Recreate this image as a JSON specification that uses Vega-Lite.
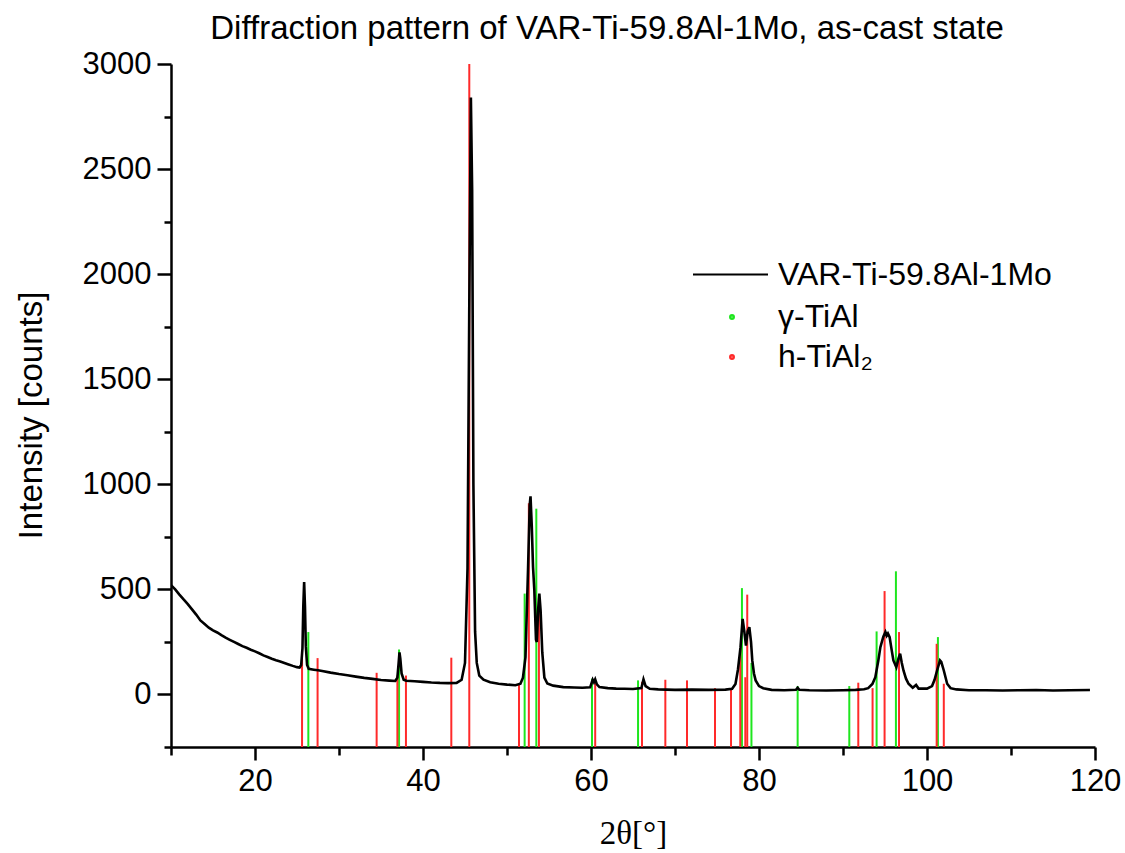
{
  "$schema": "https://vega.github.io/schema/vega-lite/v6.json",
  "width": 924,
  "height": 683,
  "autosize": "none",
  "padding": {"left": 171, "top": 64, "right": 30, "bottom": 106},
  "background": "white",
  "title": {
    "text": "Diffraction pattern of VAR-Ti-59.8Al-1Mo, as-cast state",
    "anchor": "middle",
    "dx": -26,
    "dy": 39,
    "offset": 8,
    "baseline": "bottom",
    "font": "Liberation Sans",
    "fontSize": 33,
    "fontWeight": "normal",
    "color": "black"
  },
  "config": {
    "view": {"stroke": null},
    "axis": {
      "grid": false,
      "domainColor": "black",
      "domainWidth": 2.5,
      "tickColor": "black",
      "tickWidth": 2.5,
      "labelFont": "Liberation Sans",
      "labelFontSize": 31,
      "labelColor": "black",
      "titleColor": "black",
      "titleFontWeight": "normal"
    },
    "legend": {
      "labelFont": "Liberation Sans",
      "labelFontSize": 32,
      "labelColor": "black",
      "labelLimit": 0,
      "title": null
    }
  },
  "datasets": {
    "curve": [
      {"two_theta": 10.0, "intensity": 520}, {"two_theta": 10.5, "intensity": 500}, {"two_theta": 11.0, "intensity": 475},
      {"two_theta": 11.5, "intensity": 452}, {"two_theta": 12.0, "intensity": 430}, {"two_theta": 12.5, "intensity": 405},
      {"two_theta": 13.0, "intensity": 380}, {"two_theta": 13.5, "intensity": 352}, {"two_theta": 14.0, "intensity": 335},
      {"two_theta": 14.5, "intensity": 318}, {"two_theta": 15.0, "intensity": 305}, {"two_theta": 15.5, "intensity": 295},
      {"two_theta": 16.0, "intensity": 282}, {"two_theta": 16.5, "intensity": 270}, {"two_theta": 17.0, "intensity": 260},
      {"two_theta": 17.5, "intensity": 250}, {"two_theta": 18.0, "intensity": 240}, {"two_theta": 18.5, "intensity": 230},
      {"two_theta": 19.0, "intensity": 222}, {"two_theta": 19.5, "intensity": 213}, {"two_theta": 20.0, "intensity": 205},
      {"two_theta": 20.5, "intensity": 196}, {"two_theta": 21.0, "intensity": 186}, {"two_theta": 21.5, "intensity": 178},
      {"two_theta": 22.0, "intensity": 170}, {"two_theta": 22.5, "intensity": 163}, {"two_theta": 23.0, "intensity": 157},
      {"two_theta": 23.5, "intensity": 150}, {"two_theta": 24.0, "intensity": 143}, {"two_theta": 24.5, "intensity": 136},
      {"two_theta": 25.0, "intensity": 130}, {"two_theta": 25.3, "intensity": 128}, {"two_theta": 25.5, "intensity": 140},
      {"two_theta": 25.65, "intensity": 220}, {"two_theta": 25.75, "intensity": 420}, {"two_theta": 25.85, "intensity": 535},
      {"two_theta": 25.95, "intensity": 420}, {"two_theta": 26.05, "intensity": 230}, {"two_theta": 26.2, "intensity": 140},
      {"two_theta": 26.4, "intensity": 122}, {"two_theta": 27.0, "intensity": 118}, {"two_theta": 27.5, "intensity": 115},
      {"two_theta": 28.0, "intensity": 112}, {"two_theta": 29.0, "intensity": 104}, {"two_theta": 30.0, "intensity": 97},
      {"two_theta": 31.0, "intensity": 91}, {"two_theta": 32.0, "intensity": 85}, {"two_theta": 33.0, "intensity": 79},
      {"two_theta": 34.0, "intensity": 74}, {"two_theta": 35.0, "intensity": 69}, {"two_theta": 36.0, "intensity": 66},
      {"two_theta": 36.7, "intensity": 64}, {"two_theta": 36.95, "intensity": 80}, {"two_theta": 37.1, "intensity": 150},
      {"two_theta": 37.2, "intensity": 200}, {"two_theta": 37.3, "intensity": 170}, {"two_theta": 37.45, "intensity": 100},
      {"two_theta": 37.7, "intensity": 70}, {"two_theta": 38.0, "intensity": 65}, {"two_theta": 39.0, "intensity": 63},
      {"two_theta": 40.0, "intensity": 60}, {"two_theta": 41.0, "intensity": 57}, {"two_theta": 42.0, "intensity": 55},
      {"two_theta": 43.0, "intensity": 54}, {"two_theta": 44.0, "intensity": 55}, {"two_theta": 44.6, "intensity": 70},
      {"two_theta": 45.0, "intensity": 150}, {"two_theta": 45.3, "intensity": 600}, {"two_theta": 45.5, "intensity": 1800},
      {"two_theta": 45.7, "intensity": 2840}, {"two_theta": 45.85, "intensity": 2400}, {"two_theta": 46.0, "intensity": 1000},
      {"two_theta": 46.2, "intensity": 300}, {"two_theta": 46.4, "intensity": 150}, {"two_theta": 46.7, "intensity": 90},
      {"two_theta": 47.2, "intensity": 70}, {"two_theta": 48.0, "intensity": 58}, {"two_theta": 49.0, "intensity": 51},
      {"two_theta": 50.0, "intensity": 47}, {"two_theta": 51.0, "intensity": 44}, {"two_theta": 51.6, "intensity": 51},
      {"two_theta": 51.9, "intensity": 80}, {"two_theta": 52.2, "intensity": 178}, {"two_theta": 52.5, "intensity": 590},
      {"two_theta": 52.7, "intensity": 900}, {"two_theta": 52.8, "intensity": 943}, {"two_theta": 52.95, "intensity": 800},
      {"two_theta": 53.1, "intensity": 606}, {"two_theta": 53.25, "intensity": 500}, {"two_theta": 53.45, "intensity": 260},
      {"two_theta": 53.55, "intensity": 250}, {"two_theta": 53.7, "intensity": 400}, {"two_theta": 53.85, "intensity": 480},
      {"two_theta": 54.0, "intensity": 400}, {"two_theta": 54.2, "intensity": 200}, {"two_theta": 54.45, "intensity": 80},
      {"two_theta": 54.8, "intensity": 52}, {"two_theta": 55.5, "intensity": 42}, {"two_theta": 56.7, "intensity": 35},
      {"two_theta": 58.0, "intensity": 33}, {"two_theta": 59.0, "intensity": 32}, {"two_theta": 59.9, "intensity": 34},
      {"two_theta": 60.2, "intensity": 70}, {"two_theta": 60.35, "intensity": 58}, {"two_theta": 60.5, "intensity": 72},
      {"two_theta": 60.7, "intensity": 48}, {"two_theta": 61.0, "intensity": 35}, {"two_theta": 62.0, "intensity": 30},
      {"two_theta": 63.0, "intensity": 28}, {"two_theta": 64.0, "intensity": 27}, {"two_theta": 65.0, "intensity": 26},
      {"two_theta": 66.0, "intensity": 30}, {"two_theta": 66.25, "intensity": 72}, {"two_theta": 66.5, "intensity": 40},
      {"two_theta": 67.0, "intensity": 27}, {"two_theta": 68.0, "intensity": 24}, {"two_theta": 70.0, "intensity": 22},
      {"two_theta": 72.0, "intensity": 23}, {"two_theta": 74.0, "intensity": 22}, {"two_theta": 76.0, "intensity": 23},
      {"two_theta": 76.8, "intensity": 27}, {"two_theta": 77.2, "intensity": 50}, {"two_theta": 77.5, "intensity": 120},
      {"two_theta": 77.8, "intensity": 225}, {"two_theta": 78.05, "intensity": 360}, {"two_theta": 78.25, "intensity": 300},
      {"two_theta": 78.45, "intensity": 233}, {"two_theta": 78.65, "intensity": 300}, {"two_theta": 78.85, "intensity": 320},
      {"two_theta": 79.05, "intensity": 250}, {"two_theta": 79.2, "intensity": 162}, {"two_theta": 79.4, "intensity": 100},
      {"two_theta": 79.6, "intensity": 67}, {"two_theta": 80.0, "intensity": 40}, {"two_theta": 80.5, "intensity": 30},
      {"two_theta": 81.5, "intensity": 22}, {"two_theta": 83.0, "intensity": 20}, {"two_theta": 84.4, "intensity": 22},
      {"two_theta": 84.6, "intensity": 32}, {"two_theta": 84.8, "intensity": 22}, {"two_theta": 86.0, "intensity": 20},
      {"two_theta": 88.0, "intensity": 19}, {"two_theta": 90.0, "intensity": 20}, {"two_theta": 91.5, "intensity": 22},
      {"two_theta": 92.5, "intensity": 25}, {"two_theta": 93.0, "intensity": 30}, {"two_theta": 93.5, "intensity": 50},
      {"two_theta": 93.85, "intensity": 82}, {"two_theta": 94.2, "intensity": 160}, {"two_theta": 94.45, "intensity": 225},
      {"two_theta": 94.8, "intensity": 275}, {"two_theta": 95.05, "intensity": 297}, {"two_theta": 95.2, "intensity": 280},
      {"two_theta": 95.35, "intensity": 290}, {"two_theta": 95.55, "intensity": 273}, {"two_theta": 95.8, "intensity": 210},
      {"two_theta": 96.0, "intensity": 162}, {"two_theta": 96.35, "intensity": 130}, {"two_theta": 96.6, "intensity": 170},
      {"two_theta": 96.8, "intensity": 194}, {"two_theta": 97.0, "intensity": 150}, {"two_theta": 97.2, "intensity": 114},
      {"two_theta": 97.5, "intensity": 75}, {"two_theta": 97.8, "intensity": 51}, {"two_theta": 98.3, "intensity": 32},
      {"two_theta": 98.7, "intensity": 45}, {"two_theta": 99.0, "intensity": 28}, {"two_theta": 100.0, "intensity": 28},
      {"two_theta": 100.6, "intensity": 40}, {"two_theta": 100.9, "intensity": 70}, {"two_theta": 101.2, "intensity": 114},
      {"two_theta": 101.55, "intensity": 162}, {"two_theta": 101.7, "intensity": 155}, {"two_theta": 102.0, "intensity": 114},
      {"two_theta": 102.4, "intensity": 51}, {"two_theta": 102.8, "intensity": 30}, {"two_theta": 103.5, "intensity": 24},
      {"two_theta": 105.0, "intensity": 20}, {"two_theta": 107.0, "intensity": 20}, {"two_theta": 109.0, "intensity": 19},
      {"two_theta": 111.0, "intensity": 20}, {"two_theta": 113.0, "intensity": 21}, {"two_theta": 115.0, "intensity": 19},
      {"two_theta": 117.0, "intensity": 20}, {"two_theta": 119.4, "intensity": 21}
    ],
    "sticks": [
      {"phase": "γ-TiAl", "two_theta": 26.35, "intensity": 297},
      {"phase": "γ-TiAl", "two_theta": 37.15, "intensity": 214},
      {"phase": "γ-TiAl", "two_theta": 52.1, "intensity": 480},
      {"phase": "γ-TiAl", "two_theta": 53.49, "intensity": 884},
      {"phase": "γ-TiAl", "two_theta": 60.12, "intensity": 75},
      {"phase": "γ-TiAl", "two_theta": 65.6, "intensity": 67},
      {"phase": "γ-TiAl", "two_theta": 77.97, "intensity": 506},
      {"phase": "γ-TiAl", "two_theta": 79.1, "intensity": 150},
      {"phase": "γ-TiAl", "two_theta": 84.6, "intensity": 40},
      {"phase": "γ-TiAl", "two_theta": 90.75, "intensity": 40},
      {"phase": "γ-TiAl", "two_theta": 94.0, "intensity": 300},
      {"phase": "γ-TiAl", "two_theta": 96.3, "intensity": 586},
      {"phase": "γ-TiAl", "two_theta": 101.3, "intensity": 273},
      {"phase": "h-TiAl₂", "two_theta": 25.6, "intensity": 170},
      {"phase": "h-TiAl₂", "two_theta": 27.45, "intensity": 173},
      {"phase": "h-TiAl₂", "two_theta": 34.48, "intensity": 103},
      {"phase": "h-TiAl₂", "two_theta": 36.95, "intensity": 90},
      {"phase": "h-TiAl₂", "two_theta": 37.97, "intensity": 90},
      {"phase": "h-TiAl₂", "two_theta": 43.37, "intensity": 175},
      {"phase": "h-TiAl₂", "two_theta": 45.51, "intensity": 3000},
      {"phase": "h-TiAl₂", "two_theta": 51.43, "intensity": 51},
      {"phase": "h-TiAl₂", "two_theta": 52.6, "intensity": 910},
      {"phase": "h-TiAl₂", "two_theta": 53.8, "intensity": 460},
      {"phase": "h-TiAl₂", "two_theta": 60.5, "intensity": 60},
      {"phase": "h-TiAl₂", "two_theta": 66.07, "intensity": 60},
      {"phase": "h-TiAl₂", "two_theta": 68.85, "intensity": 70},
      {"phase": "h-TiAl₂", "two_theta": 71.43, "intensity": 67},
      {"phase": "h-TiAl₂", "two_theta": 74.76, "intensity": 30},
      {"phase": "h-TiAl₂", "two_theta": 76.67, "intensity": 30},
      {"phase": "h-TiAl₂", "two_theta": 77.77, "intensity": 217},
      {"phase": "h-TiAl₂", "two_theta": 78.37, "intensity": 82},
      {"phase": "h-TiAl₂", "two_theta": 78.6, "intensity": 475},
      {"phase": "h-TiAl₂", "two_theta": 91.82, "intensity": 56},
      {"phase": "h-TiAl₂", "two_theta": 93.52, "intensity": 30},
      {"phase": "h-TiAl₂", "two_theta": 94.95, "intensity": 492},
      {"phase": "h-TiAl₂", "two_theta": 96.67, "intensity": 297},
      {"phase": "h-TiAl₂", "two_theta": 101.15, "intensity": 241},
      {"phase": "h-TiAl₂", "two_theta": 102.0, "intensity": 51}
    ]
  },
  "encoding": {
    "x": {
      "field": "two_theta",
      "type": "quantitative",
      "scale": {"domain": [10, 120], "nice": false, "zero": false},
      "axis": {
        "title": "2θ[°]",
        "titleFont": "Liberation Serif",
        "titleFontSize": 33,
        "titleY": 96,
        "titleBaseline": "alphabetic",
        "values": [10, 20, 30, 40, 50, 60, 70, 80, 90, 100, 110, 120],
        "labelExpr": "datum.value % 20 === 0 ? datum.label : ''",
        "tickSize": {"condition": {"test": "datum.value % 20 === 0", "value": 13}, "value": 8},
        "labelPadding": 6,
        "labelFlush": false,
        "labelOverlap": false
      }
    },
    "y": {
      "field": "intensity",
      "type": "quantitative",
      "scale": {"domain": [-250, 3000], "nice": false, "zero": false},
      "axis": {
        "title": "Intensity [counts]",
        "titleFont": "Liberation Sans",
        "titleFontSize": 33,
        "titleX": -130,
        "titleY": 351,
        "titleAngle": -90,
        "titleAlign": "center",
        "titleBaseline": "alphabetic",
        "values": [-250, 0, 250, 500, 750, 1000, 1250, 1500, 1750, 2000, 2250, 2500, 2750, 3000],
        "labelExpr": "datum.value % 500 === 0 ? datum.label : ''",
        "format": "d",
        "tickSize": {"condition": {"test": "datum.value % 500 === 0", "value": 14}, "value": 7},
        "labelPadding": 6,
        "labelFlush": false,
        "labelOverlap": false
      }
    }
  },
  "layer": [
    {
      "data": {"name": "sticks"},
      "mark": {"type": "rule", "strokeWidth": 2, "clip": true},
      "encoding": {
        "y2": {"datum": -250},
        "color": {
          "field": "phase",
          "type": "nominal",
          "scale": {"domain": ["γ-TiAl", "h-TiAl₂"], "range": ["#1ee61e", "#ff2a2a"]},
          "legend": {
            "orient": "none",
            "legendX": 545,
            "legendY": 237,
            "symbolType": "circle",
            "symbolSize": 6,
            "symbolStrokeWidth": 3.5,
            "rowPadding": 8,
            "labelOffset": 30
          }
        }
      }
    },
    {
      "data": {"name": "curve"},
      "mark": {"type": "line", "strokeWidth": 2.6, "color": "black", "clip": true},
      "encoding": {
        "color": {
          "datum": "VAR-Ti-59.8Al-1Mo",
          "type": "nominal",
          "scale": {"range": ["black"]},
          "legend": {
            "orient": "none",
            "legendX": 521,
            "legendY": 172,
            "symbolType": "stroke",
            "symbolSize": 5625,
            "symbolStrokeWidth": 2,
            "labelOffset": 9
          }
        }
      }
    }
  ],
  "resolve": {"scale": {"color": "independent"}}
}
